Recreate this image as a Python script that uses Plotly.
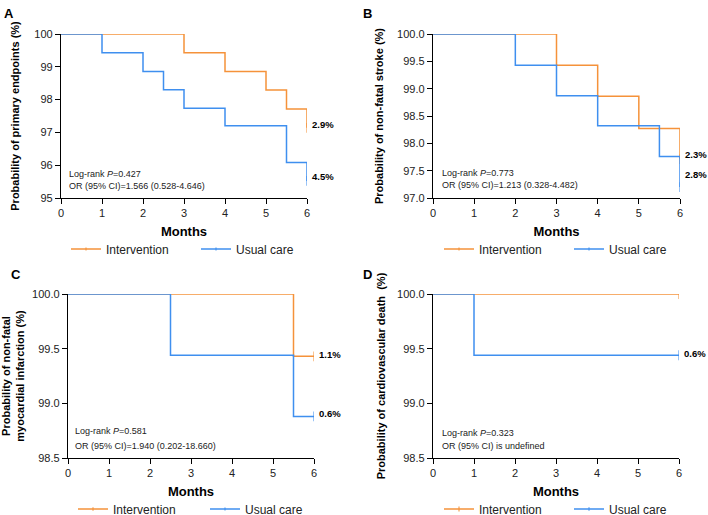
import plotly.graph_objects as go

# Kaplan-Meier step data (time in months, probability %)
a_int_t = [0, 3, 4, 5, 5.5, 6]
a_int_s = [100, 99.43, 98.86, 98.29, 97.71, 97.14]
a_usu_t = [0, 1, 2, 2.5, 3, 4, 5.5, 6]
a_usu_s = [100, 99.43, 98.86, 98.30, 97.74, 97.20, 96.08, 95.52]

b_int_t = [0, 3, 4, 5, 6]
b_int_s = [100, 99.43, 98.86, 98.27, 97.71]
b_usu_t = [0, 2, 3, 4, 5.5, 6]
b_usu_s = [100, 99.43, 98.87, 98.32, 97.76, 97.20]

c_int_t = [0, 5.5, 6]
c_int_s = [100, 99.43, 99.43]
c_usu_t = [0, 2.5, 5.5, 6]
c_usu_s = [100, 99.44, 98.88, 98.88]

d_int_t = [0, 6]
d_int_s = [100, 100]
d_usu_t = [0, 1, 6]
d_usu_s = [100, 99.44, 99.44]

groups = ["Intervention", "Usual care"]
end_labels = {
    "A": [("2.9%", 97.25), ("4.5%", 95.65)],
    "B": [("2.3%", 97.80), ("2.8%", 97.43)],
    "C": [("1.1%", 99.45), ("0.6%", 98.91)],
    "D": [("0.6%", 99.46)],
}
stats = {
    "A": ("Log-rank <i>P</i>=0.427", "OR (95% CI)=1.566 (0.528-4.646)"),
    "B": ("Log-rank <i>P</i>=0.773", "OR (95% CI)=1.213 (0.328-4.482)"),
    "C": ("Log-rank <i>P</i>=0.581", "OR (95% CI)=1.940 (0.202-18.660)"),
    "D": ("Log-rank <i>P</i>=0.323", "OR (95% CI) is undefined"),
}
ytitles = {
    "A": "Probability of primary endpoints (%)",
    "B": "Probability of non-fatal stroke (%)",
    "C": "Probability of non-fatal<br>myocardial infarction (%)",
    "D": "Probability of cardiovascular death  (%)",
}
yranges = {"A": (95, 100, 1, "d"), "B": (97, 100, 0.5, ".1f"),
           "C": (98.5, 100, 0.5, ".1f"), "D": (98.5, 100, 0.5, ".1f")}

ORANGE = "#F5923A"
BLUE = "#3F8FEF"
FONT = "Arial, Liberation Sans, sans-serif"
W, H = 708, 530  # a bit taller than the window so bottom legends need no margin push


def fx(v):
    return v / W


def fy(v):
    return 1 - v / H


# pixel boxes of each plot area: x0, x1, ytop, ybottom
boxes = {"A": (61, 307, 34, 198), "B": (433, 680, 34, 198),
         "C": (68, 314, 294, 458), "D": (433, 679, 294, 458)}
series = {"A": (a_int_t, a_int_s, a_usu_t, a_usu_s),
          "B": (b_int_t, b_int_s, b_usu_t, b_usu_s),
          "C": (c_int_t, c_int_s, c_usu_t, c_usu_s),
          "D": (d_int_t, d_int_s, d_usu_t, d_usu_s)}
legend_x = {"A": 66, "B": 439, "C": 73, "D": 439}
legend_w = {"A": 85, "B": 85, "C": 87, "D": 85}
standoffs = {"A": 12, "B": 11, "C": 6, "D": 9}
stat_pos = {"A": (67, 174, 186), "B": (440, 173, 185),
            "C": (73, 431, 446), "D": (440, 433, 446)}

fig = go.Figure()
layout = {}
annotations = []
for i, p in enumerate("ABCD"):
    n = "" if i == 0 else str(i + 1)
    x0, x1, yt, yb = boxes[p]
    lg = "legend" + n
    it, is_, ut, us = series[p]
    for name, t, s, col in [(groups[0], it, is_, ORANGE), (groups[1], ut, us, BLUE)]:
        sizes = [0] * (len(t) - 1) + [7]
        fig.add_trace(go.Scatter(
            x=t, y=s, name=name, mode="lines+markers", line_shape="hv",
            line=dict(color=col, width=1.5),
            marker=dict(symbol="line-ns", size=sizes, line=dict(color=col, width=1.5)),
            xaxis="x" + n, yaxis="y" + n, legend=lg))
    lo, hi, dt, fmt = yranges[p]
    axcommon = dict(showline=True, linecolor="black", linewidth=1.3, ticks="outside",
                    ticklen=5, tickwidth=1.2, tickcolor="black", showgrid=False,
                    zeroline=False, automargin=False,
                    tickfont=dict(size=11, color="#222", family=FONT))
    layout["xaxis" + n] = dict(domain=[fx(x0), fx(x1)], range=[0, 6], dtick=1,
                               anchor="y" + n,
                               title=dict(text="<b>Months</b>", standoff=8,
                                          font=dict(size=13, color="black", family=FONT)),
                               **axcommon)
    layout["yaxis" + n] = dict(domain=[fy(yb), fy(yt)], range=[lo, hi], dtick=dt,
                               tickformat=fmt, anchor="x" + n,
                               title=dict(text="<b>" + ytitles[p] + "</b>", standoff=standoffs[p],
                                          font=dict(size=11, color="black", family=FONT)),
                               **axcommon)
    layout[lg] = dict(orientation="h", x=fx(legend_x[p]), y=fy(yb + 51), xanchor="left",
                      yanchor="middle", xref="paper", yref="paper", entrywidth=legend_w[p],
                      bgcolor="rgba(0,0,0,0)", itemwidth=30,
                      font=dict(size=12, color="#222", family=FONT))
    # panel letter
    annotations.append(dict(text="<b>" + p + "</b>", x=fx(x0 - 59 if p in "AC" else x0 - 72),
                            y=fy(yt - 20), xref="paper", yref="paper",
                            xanchor="left", yanchor="middle", showarrow=False,
                            font=dict(size=13, color="black", family=FONT)))
    # end-of-curve labels
    for txt, yv in end_labels[p]:
        annotations.append(dict(text="<b>" + txt + "</b>", x=6, y=yv, xref="x" + n, yref="y" + n,
                                xanchor="left", yanchor="middle", xshift=3, showarrow=False,
                                font=dict(size=9.5, color="black", family=FONT)))
    sx, sy1, sy2 = stat_pos[p]
    for txt, sy in zip(stats[p], (sy1, sy2)):
        annotations.append(dict(text=txt, x=fx(sx), y=fy(sy), xref="paper", yref="paper",
                                xanchor="left", yanchor="middle", showarrow=False,
                                font=dict(size=9, color="#222", family=FONT)))

fig.update_layout(**layout)
fig.update_layout(width=W, height=H, margin=dict(l=0, r=0, t=0, b=0),
                  plot_bgcolor="white", paper_bgcolor="white",
                  annotations=annotations, font=dict(family=FONT))
# drop the default page margin so the figure starts at the window corner
fig.write_html("out.html", config={"displayModeBar": False},
               post_script="document.body.style.margin='0';"
                           "document.documentElement.style.overflow='hidden';"
                           "document.body.style.overflow='hidden';")
